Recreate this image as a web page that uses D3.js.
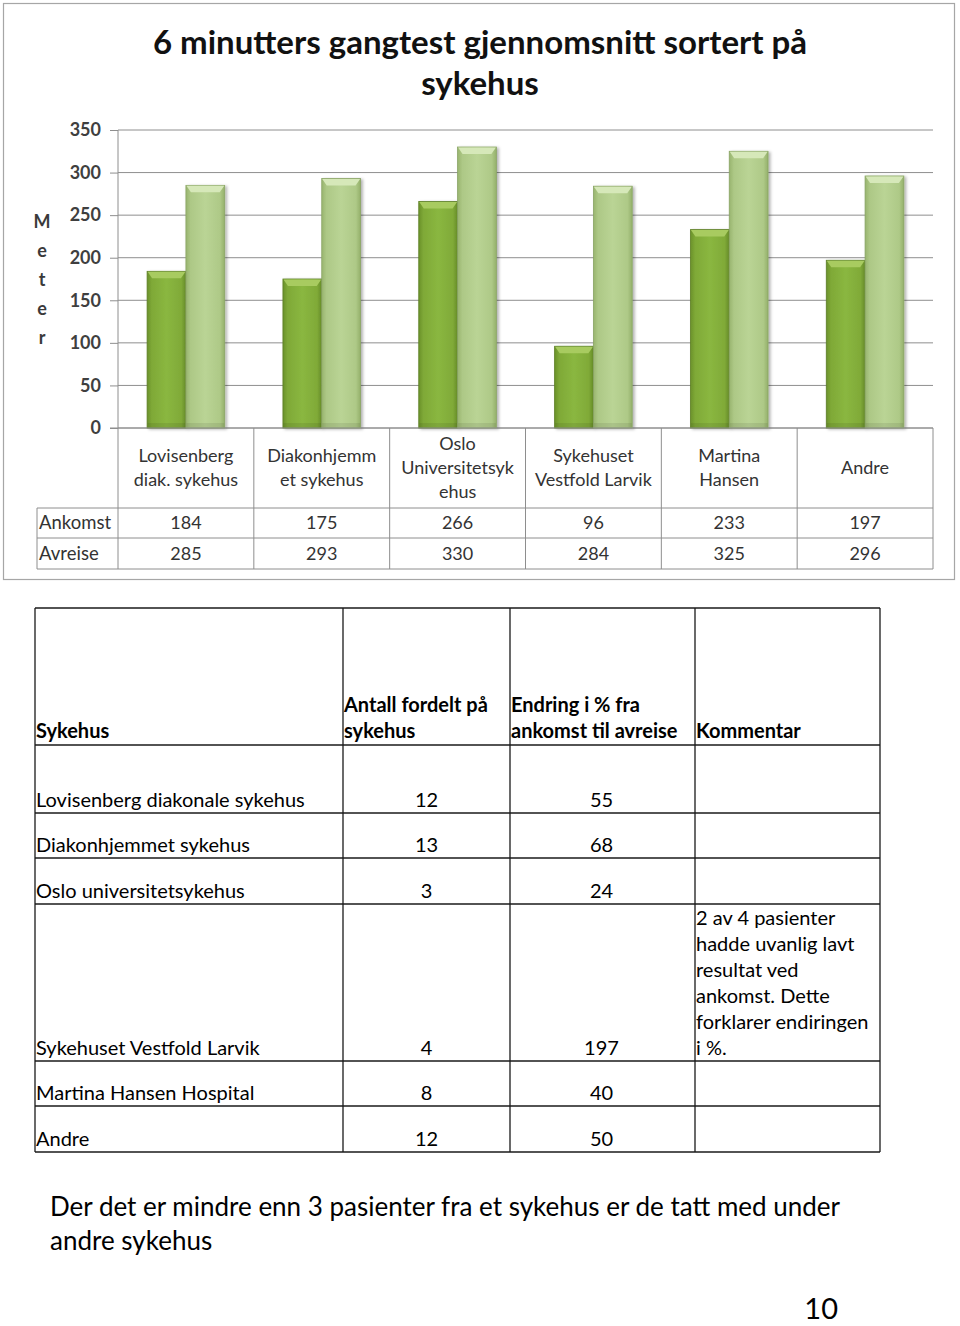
<!DOCTYPE html>
<html>
<head>
<meta charset="utf-8">
<script src="https://cdn.jsdelivr.net/npm/d3@7"></script>
<style>
  html, body { margin: 0; padding: 0; background: #fff; }
  svg { display: block; }
  text { font-family: Lato, "Liberation Sans", sans-serif; }
</style>
</head>
<body>
<svg id="chart" width="960" height="1326"></svg>
<script>
// ---------- data ----------
const chartTitle = ["6 minutters gangtest gjennomsnitt sortert på", "sykehus"];
const yAxisLabel = ["M", "e", "t", "e", "r"];
const categories = [
  ["Lovisenberg", "diak. sykehus"],
  ["Diakonhjemm", "et sykehus"],
  ["Oslo", "Universitetsyk", "ehus"],
  ["Sykehuset", "Vestfold Larvik"],
  ["Martina", "Hansen"],
  ["Andre"]
];
const seriesNames = ["Ankomst", "Avreise"];
const ankomst = [184, 175, 266, 96, 233, 197];
const avreise = [285, 293, 330, 284, 325, 296];
const yTicks = [0, 50, 100, 150, 200, 250, 300, 350];

const tableHeaders = [["Sykehus"], ["Antall fordelt på", "sykehus"], ["Endring i % fra", "ankomst til avreise"], ["Kommentar"]];
const tableHospitals = ["Lovisenberg diakonale sykehus", "Diakonhjemmet sykehus", "Oslo universitetsykehus",
  "Sykehuset Vestfold Larvik", "Martina Hansen Hospital", "Andre"];
const tableCounts = [12, 13, 3, 4, 8, 12];
const tableChange = [55, 68, 24, 197, 40, 50];
const tableComments = [[], [], [], ["2 av 4 pasienter", "hadde uvanlig lavt", "resultat ved", "ankomst. Dette", "forklarer endiringen", "i %."], [], []];

const footnote = ["Der det er mindre enn 3 pasienter fra et sykehus er de tatt med under", "andre sykehus"];
const pageNumber = "10";

// ---------- drawing ----------
const svg = d3.select("#chart");
const defs = svg.append("defs");

function grad(id, stops, horizontal) {
  const g = defs.append("linearGradient").attr("id", id)
    .attr("x1", 0).attr("y1", 0).attr("x2", horizontal ? 1 : 0).attr("y2", horizontal ? 0 : 1);
  stops.forEach(([o, c]) => g.append("stop").attr("offset", o).attr("stop-color", c));
}
grad("gDark", [[0, "#6a912a"], [0.12, "#7fa937"], [0.5, "#8ab740"], [0.88, "#80aa38"], [1, "#668c28"]], true);
grad("gLight", [[0, "#98b46e"], [0.12, "#adc886"], [0.5, "#bad495"], [0.88, "#aec987"], [1, "#94b06a"]], true);
const bevelColors = ["#a8cb60", "#d6e8b9"];
const fills = ["url(#gDark)", "url(#gLight)"];
const edgeColors = ["#5d7f26", "#8aa565"];

const shadow = defs.append("filter").attr("id", "shadow").attr("x", "-20%").attr("y", "-5%").attr("width", "150%").attr("height", "115%");
shadow.append("feDropShadow").attr("dx", 2).attr("dy", 1).attr("stdDeviation", 1.5).attr("flood-color", "#000").attr("flood-opacity", 0.3);

// frame
svg.append("rect").attr("x", 3.5).attr("y", 3.5).attr("width", 951).attr("height", 576)
  .attr("fill", "#fff").attr("stroke", "#a6a6a6").attr("stroke-width", 1.2);

// title
svg.append("g").selectAll("text").data(chartTitle).join("text")
  .attr("x", 480).attr("y", (d, i) => 54 + i * 41)
  .attr("text-anchor", "middle").attr("font-size", 33).attr("font-weight", "bold").attr("fill", "#111")
  .text(d => d);

// scales
const plotLeft = 118, plotRight = 933, plotTop = 130, plotBottom = 428;
const x = d3.scaleBand().domain(d3.range(categories.length)).range([plotLeft, plotRight]).padding(0);
const xs = d3.scaleBand().domain(d3.range(seriesNames.length)).range([0, x.bandwidth()]).paddingInner(0).paddingOuter(0.75);
const y = d3.scaleLinear().domain([0, 350]).range([plotBottom, plotTop]);

// gridlines
svg.append("g").selectAll("line").data(yTicks).join("line")
  .attr("x1", plotLeft).attr("x2", plotRight)
  .attr("y1", d => y(d)).attr("y2", d => y(d))
  .attr("stroke", "#8e8e8e").attr("stroke-width", 1);

// y axis
const yAxis = svg.append("g").attr("transform", `translate(${plotLeft},0)`)
  .call(d3.axisLeft(y).tickValues(yTicks).tickSize(8).tickPadding(9).tickFormat(d3.format("d")));
yAxis.select(".domain").remove();
yAxis.selectAll(".tick line").attr("stroke", "#8e8e8e");
yAxis.selectAll(".tick text").attr("font-size", 18).attr("font-weight", "bold").attr("fill", "#3f3f3f")
  .attr("font-family", "Lato, sans-serif");

// Meter label
svg.append("g").selectAll("text").data(yAxisLabel).join("text")
  .attr("x", 42).attr("y", (d, i) => 228 + i * 29)
  .attr("text-anchor", "middle").attr("font-size", 18).attr("font-weight", "bold").attr("fill", "#3a3a3a")
  .text(d => d);

// bars
const series = [ankomst, avreise];
const barG = svg.append("g");
series.forEach((vals, s) => {
  const g = barG.append("g");
  vals.forEach((v, i) => {
    const bx = x(i) + xs(s), bw = xs.bandwidth(), by = y(v), bh = y(0) - y(v);
    g.append("rect").attr("x", bx).attr("y", by).attr("width", bw).attr("height", bh)
      .attr("fill", fills[s]).attr("stroke", edgeColors[s]).attr("stroke-width", 0.8)
      .attr("filter", "url(#shadow)");
    g.append("path")
      .attr("d", `M${bx + 0.5},${by + 0.5} L${bx + bw - 0.5},${by + 0.5} L${bx + bw - 5},${by + 7} L${bx + 5},${by + 7} Z`)
      .attr("fill", bevelColors[s]);
    g.append("rect").attr("x", bx + 0.5).attr("y", y(0) - 5).attr("width", bw - 1).attr("height", 4.5)
      .attr("fill", "#000").attr("opacity", 0.08);
  });
});

// x axis line (extends through data table) and plot left line
const tableRow1 = 508, tableRow2 = 538, tableBottom = 569, tableLeft = 37;
const lineColor = "#8e8e8e";
const tl = svg.append("g").attr("stroke", lineColor).attr("stroke-width", 1);
tl.append("line").attr("x1", plotLeft).attr("x2", plotLeft).attr("y1", plotTop).attr("y2", tableBottom);
tl.append("line").attr("x1", plotLeft - 8).attr("x2", plotRight).attr("y1", y(0)).attr("y2", y(0));
tl.selectAll(".sep").data(d3.range(1, categories.length + 1)).join("line")
  .attr("x1", i => i === categories.length ? plotRight : x(i)).attr("x2", i => i === categories.length ? plotRight : x(i))
  .attr("y1", y(0)).attr("y2", tableBottom);
[tableRow1, tableRow2, tableBottom].forEach(yy =>
  tl.append("line").attr("x1", tableLeft).attr("x2", plotRight).attr("y1", yy).attr("y2", yy));
tl.append("line").attr("x1", tableLeft).attr("x2", tableLeft).attr("y1", tableRow1).attr("y2", tableBottom);

// category labels
categories.forEach((lines, i) => {
  const cx = x(i) + x.bandwidth() / 2;
  const n = lines.length;
  svg.append("g").selectAll("text").data(lines).join("text")
    .attr("x", cx).attr("y", (d, k) => 468 + (k - (n - 1) / 2) * 24 + 6)
    .attr("text-anchor", "middle").attr("font-size", 18).attr("fill", "#333")
    .text(d => d);
});

// series labels + values
const rowCenters = [(tableRow1 + tableRow2) / 2, (tableRow2 + tableBottom) / 2];
seriesNames.forEach((nm, s) => {
  svg.append("text").attr("x", tableLeft + 2).attr("y", rowCenters[s] + 6)
    .attr("font-size", 18.5).attr("fill", "#333").text(nm);
  svg.append("g").selectAll("text").data(series[s]).join("text")
    .attr("x", (d, i) => x(i) + x.bandwidth() / 2).attr("y", rowCenters[s] + 6)
    .attr("text-anchor", "middle").attr("font-size", 18).attr("fill", "#333")
    .text(d => d);
});

// ---------- lower table ----------
const colEdges = [35, 343, 510, 695, 880];
const rowEdges = [608, 745, 813, 858, 904, 1061, 1106, 1152];
const tg = svg.append("g").attr("stroke", "#1a1a1a").attr("stroke-width", 1.3);
rowEdges.forEach(r => tg.append("line").attr("x1", colEdges[0]).attr("x2", colEdges[4]).attr("y1", r).attr("y2", r));
colEdges.forEach(c => tg.append("line").attr("x1", c).attr("x2", c).attr("y1", rowEdges[0]).attr("y2", rowEdges[rowEdges.length - 1]));

const lh = 26;
tableHeaders.forEach((lines, c) => {
  const n = lines.length;
  svg.append("g").selectAll("text").data(lines).join("text")
    .attr("x", colEdges[c] + 1).attr("y", (d, k) => rowEdges[1] - 7 - (n - 1 - k) * lh)
    .attr("font-size", 20).attr("font-weight", "bold").attr("fill", "#000")
    .text(d => d);
});
tableHospitals.forEach((h, r) => {
  const base = rowEdges[r + 2] - 6;
  svg.append("text").attr("x", colEdges[0] + 1).attr("y", base).attr("font-size", 20).attr("fill", "#000").text(h);
  svg.append("text").attr("x", (colEdges[1] + colEdges[2]) / 2).attr("y", base).attr("text-anchor", "middle")
    .attr("font-size", 20).attr("fill", "#000").text(tableCounts[r]);
  svg.append("text").attr("x", (colEdges[2] + colEdges[3]) / 2 - 1).attr("y", base).attr("text-anchor", "middle")
    .attr("font-size", 20).attr("fill", "#000").text(tableChange[r]);
  const cm = tableComments[r], n = cm.length;
  svg.append("g").selectAll("text").data(cm).join("text")
    .attr("x", colEdges[3] + 1).attr("y", (d, k) => base - (n - 1 - k) * lh)
    .attr("font-size", 20).attr("fill", "#000").text(d => d);
});

// footnote
svg.append("g").selectAll("text").data(footnote).join("text")
  .attr("x", 50).attr("y", (d, i) => 1216 + i * 34)
  .attr("font-size", 26).attr("fill", "#000").text(d => d);
svg.append("text").attr("x", 838).attr("y", 1319).attr("text-anchor", "end")
  .attr("font-size", 29).attr("fill", "#000").text(pageNumber);
</script>
</body>
</html>
